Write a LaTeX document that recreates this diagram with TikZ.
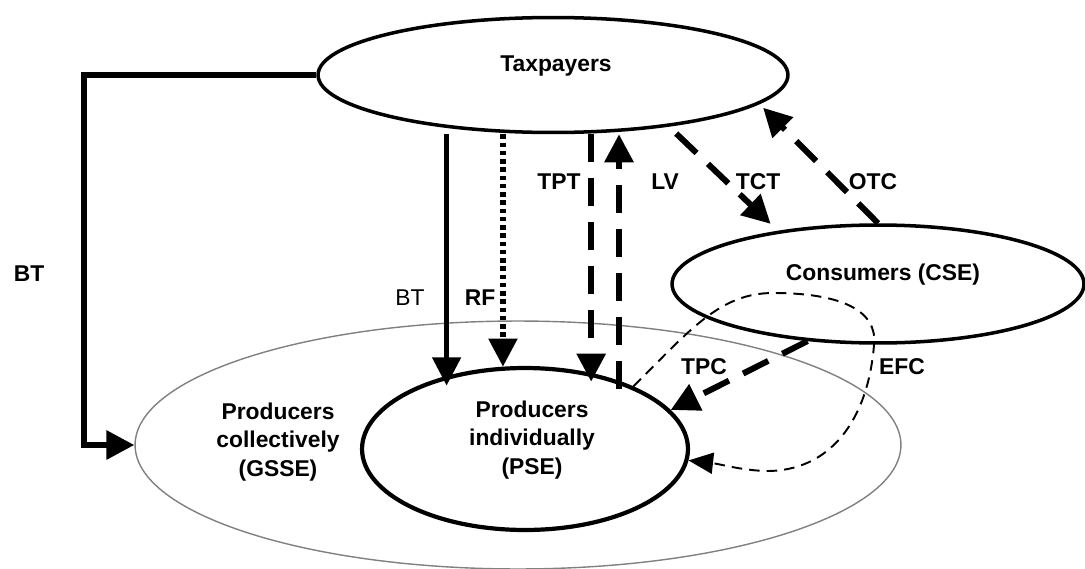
\documentclass[tikz,border=0pt]{standalone}
\usepackage{fontspec}
\setmainfont{Liberation Sans}
\usetikzlibrary{arrows.meta,shapes.geometric}

\begin{document}
\begin{tikzpicture}[x=0.02cm, y=-0.02cm,
  every node/.style={font=\fontsize{13}{16}\selectfont\bfseries, align=center},
  oval/.style={ellipse, draw, line width=2pt, inner sep=0pt},
  bigtip/.style={-{Triangle[length=16pt,width=16pt]}},
  heavydash/.style={bigtip, line width=3.4pt, dash pattern=on 16pt off 9pt},
  lightdash/.style={-{Triangle[length=14pt,width=12pt]}, line width=1.1pt, dash pattern=on 6pt off 4pt}]

\useasboundingbox (0,0) rectangle (1085,568);

\node [oval, draw=gray, line width=0.8pt, minimum width=15.32cm, minimum height=4.96cm] (gsse) at (518,445) {};
\node [oval, line width=2.4pt, minimum width=6.52cm, minimum height=3.24cm] (pse) at (525,449) {};
\node [oval, minimum width=9.4cm, minimum height=2.3cm] (tax) at (553,75) {};
\node [oval, minimum width=8.24cm, minimum height=2.36cm] (con) at (878,284) {};

\node (taxtext) at (556,66) {Taxpayers};
\node (context) at (883,275) {Consumers (CSE)};
\node (psetext) at (532,440) {Producers\\individually\\(PSE)};
\node (gssetext) at (278,442) {Producers\\collectively\\(GSSE)};

\draw [bigtip, line width=3.5pt] (tax.west) -- ++(-232,0) |- (gsse.west);
\draw [bigtip, line width=2.5pt, shorten >=-5.5pt] (pse.137 |- tax.south) -- (pse.137);
\draw [bigtip, line width=3pt, dash pattern=on 2.6pt off 2.1pt] (pse.105 |- tax.south) -- (pse.105);
\draw [heavydash, shorten >=-5pt] (pse.49 |- tax.south) -- (pse.49);
\draw [heavydash, shorten <=-4.5pt] (pse.36) -- (pse.36 |- tax.south);
\draw [heavydash, shorten <=5.7pt, shorten >=5.7pt] (tax.-24) -- (con.152);
\draw [heavydash, shorten >=3pt] (con.north) -- (tax.-8);
\draw [heavydash] (con.219) -- (pse.15);
\draw [lightdash] (pse.30) .. controls (690,330) and (720,293) .. (773,293)
  .. controls (840,293) and (878,310) .. (874,345)
  .. controls (868,420) and (830,472) .. (765,471)
  .. controls (740,470) and (720,464) .. (pse.-4);

\node (btleft) at (29,274) {BT};
\node [font=\fontsize{13}{16}\selectfont] (btmid) at (410,298) {BT};
\node (rf) at (480,298) {RF};
\node (tpt) at (559,182) {TPT};
\node (lv) at (665,182) {LV};
\node (tct) at (758,182) {TCT};
\node (otc) at (873,182) {OTC};
\node (tpc) at (704,367) {TPC};
\node (efc) at (902,367) {EFC};

\end{tikzpicture}
\end{document}
